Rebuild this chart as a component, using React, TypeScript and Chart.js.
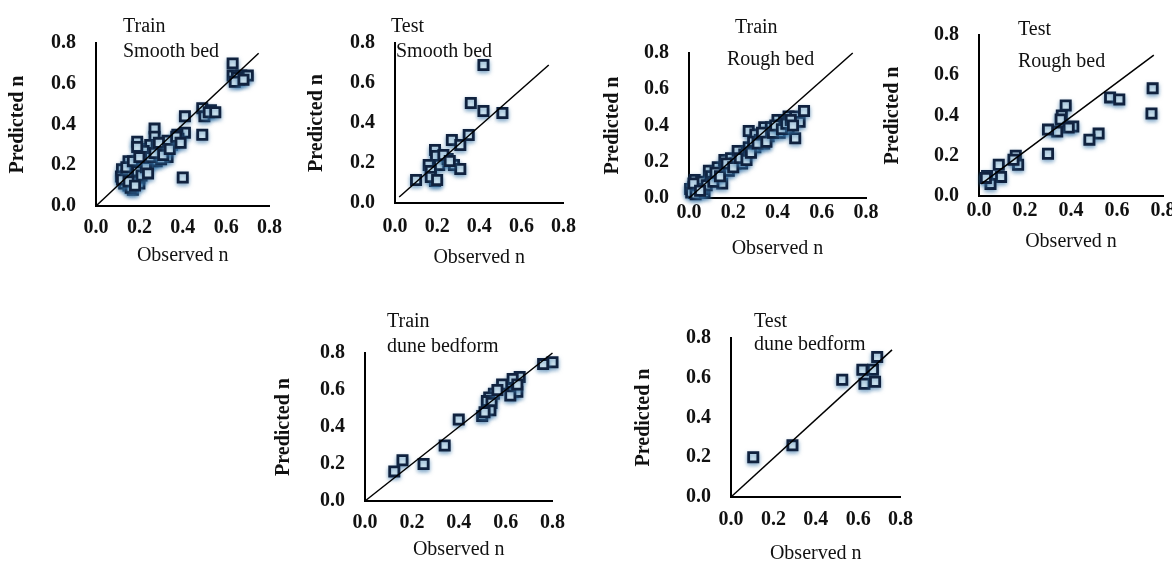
import React, { useEffect, useRef } from "react";
import { Chart, registerables } from "chart.js";

Chart.register(...registerables);
Chart.defaults.font.family = "'Liberation Serif', 'Times New Roman', serif";
Chart.defaults.color = "#111";

// ---- shared axis text ----
const tickValues = [0, 0.2, 0.4, 0.6, 0.8];
const tickLabels = ["0.0", "0.2", "0.4", "0.6", "0.8"];
const xAxisTitle = "Observed n";
const yAxisTitle = "Predicted n";

// ---- Panel 1: Train / Smooth bed ----
const trainSmoothObserved = [
  0.63, 0.63, 0.66, 0.67, 0.70, 0.65,
  0.49, 0.53, 0.50, 0.52, 0.49,
  0.41, 0.41, 0.375, 0.40,
  0.27, 0.27, 0.32, 0.33, 0.29, 0.31, 0.35, 0.38, 0.36,
  0.19, 0.245, 0.23, 0.26, 0.21, 0.15, 0.12, 0.115, 0.145, 0.18, 0.15, 0.17, 0.20, 0.13,
  0.22, 0.24, 0.26, 0.28, 0.30, 0.18, 0.16, 0.20, 0.25, 0.28, 0.22, 0.33, 0.19, 0.14, 0.17, 0.16,
  0.12, 0.14, 0.17, 0.19, 0.21, 0.23, 0.25, 0.27, 0.29, 0.31, 0.34, 0.37, 0.15, 0.18, 0.20, 0.24,
  0.39, 0.55, 0.64, 0.68,
];
const trainSmoothPredicted = [
  0.70, 0.64, 0.62, 0.64, 0.64, 0.63,
  0.48, 0.47, 0.44, 0.46, 0.35,
  0.44, 0.36, 0.35, 0.14,
  0.38, 0.34, 0.29, 0.24, 0.27, 0.28, 0.30, 0.33, 0.31,
  0.315, 0.28, 0.24, 0.22, 0.21, 0.22, 0.18, 0.145, 0.13, 0.16, 0.10, 0.08, 0.11, 0.11,
  0.18, 0.20, 0.25, 0.22, 0.23, 0.20, 0.17, 0.14, 0.30, 0.29, 0.27, 0.32, 0.29, 0.15, 0.12, 0.09,
  0.13, 0.19, 0.22, 0.17, 0.15, 0.19, 0.24, 0.26, 0.31, 0.25, 0.28, 0.34, 0.12, 0.10, 0.24, 0.16,
  0.31, 0.46, 0.61, 0.62,
];
const trainSmoothLineX = [0, 0.75];
const trainSmoothLineY = [0, 0.75];

// ---- Panel 2: Test / Smooth bed ----
const testSmoothObserved = [
  0.42, 0.36, 0.42, 0.51, 0.35, 0.27, 0.31, 0.19, 0.195, 0.16, 0.21,
  0.25, 0.28, 0.31, 0.17, 0.19, 0.17, 0.20, 0.10, 0.23, 0.26,
];
const testSmoothPredicted = [
  0.69, 0.50, 0.46, 0.45, 0.34, 0.315, 0.29, 0.265, 0.235, 0.19, 0.19,
  0.22, 0.19, 0.17, 0.16, 0.11, 0.13, 0.115, 0.115, 0.24, 0.21,
];
const testSmoothLineX = [0.02, 0.73];
const testSmoothLineY = [0.03, 0.69];

// ---- Panel 3: Train / Rough bed ----
const trainRoughObserved = [
  0.005, 0.02, 0.026, 0.04, 0.055, 0.07, 0.09, 0.10, 0.13, 0.15, 0.16, 0.16,
  0.18, 0.19, 0.21, 0.22, 0.24, 0.25, 0.27, 0.27, 0.30, 0.30, 0.32, 0.34, 0.34,
  0.36, 0.37, 0.40, 0.41, 0.42, 0.43, 0.45, 0.45, 0.48, 0.48, 0.50, 0.52,
  0.01, 0.03, 0.06, 0.08, 0.11, 0.12, 0.14, 0.17, 0.20, 0.23, 0.26, 0.28,
  0.29, 0.31, 0.33, 0.35, 0.38, 0.39, 0.42, 0.44, 0.46, 0.47, 0.02, 0.05,
];
const trainRoughPredicted = [
  0.05, 0.06, 0.10, 0.065, 0.09, 0.03, 0.15, 0.12, 0.17, 0.08, 0.21, 0.16,
  0.15, 0.22, 0.19, 0.26, 0.19, 0.24, 0.28, 0.37, 0.35, 0.28, 0.32, 0.30, 0.39,
  0.34, 0.39, 0.43, 0.36, 0.40, 0.42, 0.45, 0.38, 0.45, 0.33, 0.42, 0.48,
  0.03, 0.02, 0.05, 0.07, 0.09, 0.14, 0.12, 0.19, 0.17, 0.22, 0.21, 0.25,
  0.31, 0.30, 0.36, 0.31, 0.36, 0.40, 0.38, 0.41, 0.43, 0.40, 0.08, 0.04,
];
const trainRoughLineX = [0, 0.74];
const trainRoughLineY = [0, 0.80];

// ---- Panel 4: Test / Rough bed ----
const testRoughObserved = [
  0.755, 0.75, 0.57, 0.61, 0.377, 0.36, 0.355, 0.41, 0.39, 0.34, 0.30,
  0.30, 0.52, 0.48, 0.16, 0.17, 0.15, 0.086, 0.096, 0.035, 0.05, 0.03,
];
const testRoughPredicted = [
  0.535, 0.41, 0.49, 0.48, 0.45, 0.40, 0.38, 0.345, 0.34, 0.32, 0.33,
  0.21, 0.31, 0.28, 0.20, 0.155, 0.18, 0.155, 0.095, 0.10, 0.06, 0.09,
];
const testRoughLineX = [0.01, 0.76];
const testRoughLineY = [0.06, 0.70];

// ---- Panel 5: Train / dune bedform ----
const trainDuneObserved = [
  0.80, 0.76, 0.66, 0.63, 0.585, 0.63, 0.65, 0.62, 0.55, 0.53, 0.52,
  0.54, 0.535, 0.50, 0.51, 0.40, 0.34, 0.25, 0.16, 0.125, 0.565, 0.65,
];
const trainDunePredicted = [
  0.75, 0.74, 0.67, 0.66, 0.63, 0.59, 0.59, 0.57, 0.58, 0.56, 0.54,
  0.53, 0.49, 0.46, 0.48, 0.44, 0.30, 0.20, 0.22, 0.16, 0.60, 0.63,
];
const trainDuneLineX = [0, 0.8];
const trainDuneLineY = [0, 0.8];

// ---- Panel 6: Test / dune bedform ----
const testDuneObserved = [0.69, 0.67, 0.62, 0.63, 0.68, 0.525, 0.29, 0.105];
const testDunePredicted = [0.705, 0.64, 0.64, 0.57, 0.58, 0.59, 0.26, 0.20];
const testDuneLineX = [0, 0.76];
const testDuneLineY = [0, 0.74];

type Layout = {
  left: number; top: number; right: number; bottom: number;
  yTitleGap: number; xLabelPad: number; xTitleDist: number;
  tdx: number[]; tdy: number[];
};

type PanelDef = {
  title: string[];
  obs: number[]; pred: number[];
  lineX: number[]; lineY: number[];
  layout: Layout;
};

const panels: PanelDef[] = [
  {
    title: ["Train", "Smooth bed"], obs: trainSmoothObserved, pred: trainSmoothPredicted,
    lineX: trainSmoothLineX, lineY: trainSmoothLineY,
    layout: { left: 96, top: 43, right: 270, bottom: 206, yTitleGap: 78, xLabelPad: 10, xTitleDist: 50, tdx: [27, 27], tdy: [-16, 9] },
  },
  {
    title: ["Test", "Smooth bed"], obs: testSmoothObserved, pred: testSmoothPredicted,
    lineX: testSmoothLineX, lineY: testSmoothLineY,
    layout: { left: 395, top: 43, right: 566, bottom: 203, yTitleGap: 78, xLabelPad: 12, xTitleDist: 55, tdx: [-4, 1], tdy: [-16, 9] },
  },
  {
    title: ["Train", "Rough bed"], obs: trainRoughObserved, pred: trainRoughPredicted,
    lineX: trainRoughLineX, lineY: trainRoughLineY,
    layout: { left: 689, top: 53, right: 866, bottom: 198, yTitleGap: 76, xLabelPad: 3, xTitleDist: 51, tdx: [46, 38], tdy: [-25, 7] },
  },
  {
    title: ["Test", "Rough bed"], obs: testRoughObserved, pred: testRoughPredicted,
    lineX: testRoughLineX, lineY: testRoughLineY,
    layout: { left: 979, top: 35, right: 1163, bottom: 196, yTitleGap: 86, xLabelPad: 3, xTitleDist: 46, tdx: [39, 39], tdy: [-5, 27] },
  },
  {
    title: ["Train", "dune bedform"], obs: trainDuneObserved, pred: trainDunePredicted,
    lineX: trainDuneLineX, lineY: trainDuneLineY,
    layout: { left: 365, top: 353, right: 553, bottom: 501, yTitleGap: 81, xLabelPad: 10, xTitleDist: 49, tdx: [22, 22], tdy: [-31, -6] },
  },
  {
    title: ["Test", "dune bedform"], obs: testDuneObserved, pred: testDunePredicted,
    lineX: testDuneLineX, lineY: testDuneLineY,
    layout: { left: 731, top: 338, right: 902, bottom: 497, yTitleGap: 87, xLabelPad: 11, xTitleDist: 57, tdx: [23, 23], tdy: [-16, 7] },
  },
];

const PAD_TOP = 50;
const PAD_RIGHT = 22;
const HALF_LINE = 12;

function Panel({ def }: { def: PanelDef }) {
  const ref = useRef<HTMLCanvasElement>(null);
  const L = def.layout;
  const yW = L.yTitleGap + HALF_LINE;
  const xH = L.xTitleDist + HALF_LINE;
  const cw = yW + (L.right - L.left) + PAD_RIGHT;
  const ch = PAD_TOP + (L.bottom - L.top) + xH;

  useEffect(() => {
    if (!ref.current) return;
    const titlePlugin = {
      id: "panelTitle",
      afterDraw(chart: any) {
        const { ctx, chartArea } = chart;
        ctx.save();
        ctx.font = "20px 'Liberation Serif', 'Times New Roman', serif";
        ctx.fillStyle = "#111";
        ctx.textBaseline = "middle";
        ctx.textAlign = "left";
        def.title.forEach((t, i) => {
          ctx.fillText(t, chartArea.left + L.tdx[i], chartArea.top + L.tdy[i]);
        });
        ctx.restore();
      },
    };
    const shadowPlugin = {
      id: "pointShadow",
      beforeDatasetDraw(chart: any, args: any) {
        if (args.index !== 1) return;
        const ctx = chart.ctx;
        ctx.save();
        ctx.shadowColor = "rgba(60,120,170,0.6)";
        ctx.shadowBlur = 4;
        ctx.shadowOffsetY = 2;
      },
      afterDatasetDraw(chart: any, args: any) {
        if (args.index !== 1) return;
        chart.ctx.restore();
      },
    };
    const axisCommon = {
      type: "linear" as const,
      min: 0,
      max: 0.8,
      grid: { display: false, drawTicks: false },
      border: { display: true, color: "#000", width: 2 },
      afterBuildTicks: (s: any) => {
        s.ticks = tickValues.map((v) => ({ value: v }));
      },
    };
    const chart = new Chart(ref.current, {
      type: "scatter",
      data: {
        datasets: [
          {
            label: "line",
            data: def.lineX.map((x, i) => ({ x, y: def.lineY[i] })),
            showLine: true,
            borderColor: "#000",
            borderWidth: 1.5,
            pointRadius: 0,
            clip: false as any,
          },
          {
            label: "points",
            data: def.obs.map((x, i) => ({ x, y: def.pred[i] })),
            pointStyle: "rect",
            pointRadius: 6.5,
            backgroundColor: "#e4f3f9",
            borderColor: "#10223f",
            borderWidth: 2.8,
            clip: false as any,
          },
        ],
      },
      options: {
        animation: false,
        responsive: false,
        layout: { padding: { top: PAD_TOP, right: PAD_RIGHT, left: 0, bottom: 0 } },
        plugins: { legend: { display: false }, tooltip: { enabled: false } },
        scales: {
          x: {
            ...axisCommon,
            position: "bottom",
            afterFit: (s: any) => { s.height = xH; },
            ticks: {
              padding: L.xLabelPad,
              font: { size: 20, weight: "bold", lineHeight: 1.2 },
              color: "#111",
              callback: (_v: any, i: number) => tickLabels[i],
            },
            title: {
              display: true,
              text: xAxisTitle,
              padding: 0,
              font: { size: 20, lineHeight: 1.2 },
              color: "#111",
            },
          },
          y: {
            ...axisCommon,
            position: "left",
            afterFit: (s: any) => { s.width = yW; },
            ticks: {
              padding: 20,
              font: { size: 20, weight: "bold", lineHeight: 1.2 },
              color: "#111",
              callback: (_v: any, i: number) => tickLabels[i],
            },
            title: {
              display: true,
              text: yAxisTitle,
              padding: 0,
              font: { size: 20, weight: "bold", lineHeight: 1.2 },
              color: "#111",
            },
          },
        },
      } as any,
      plugins: [titlePlugin, shadowPlugin],
    });
    return () => chart.destroy();
  }, []);

  return (
    <canvas
      ref={ref}
      width={cw}
      height={ch}
      style={{
        position: "absolute",
        left: L.left - yW,
        top: L.top - PAD_TOP,
        width: cw,
        height: ch,
      }}
    />
  );
}

export default function App() {
  return (
    <div
      style={{
        position: "absolute",
        left: 0,
        top: 0,
        width: 1172,
        height: 561,
        overflow: "hidden",
        background: "#fff",
      }}
    >
      {panels.map((p, i) => (
        <Panel key={i} def={p} />
      ))}
    </div>
  );
}
